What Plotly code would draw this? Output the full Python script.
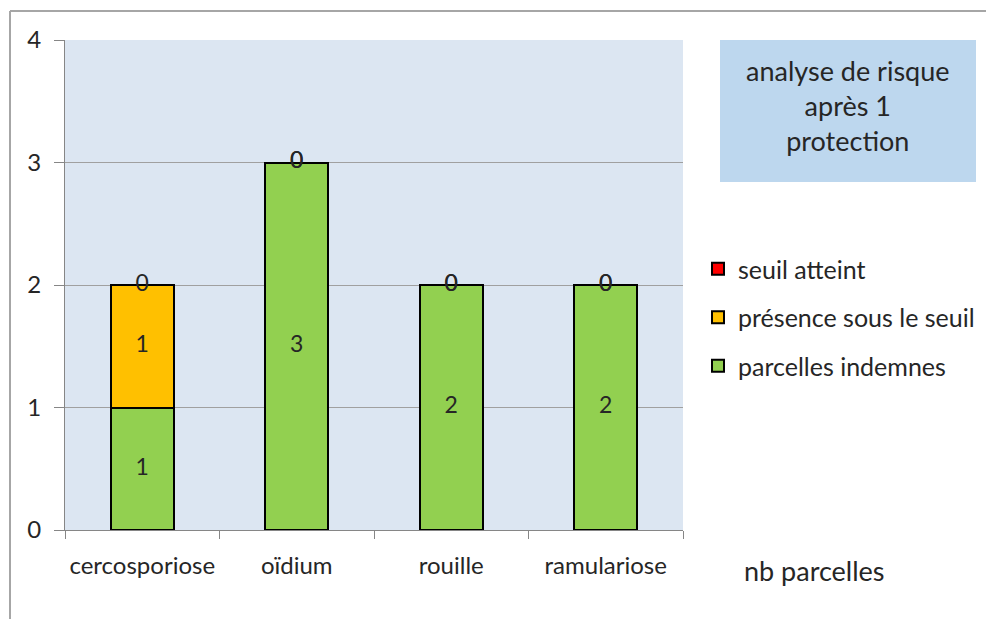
import plotly.graph_objects as go

categories = ["cercosporiose", "oïdium", "rouille", "ramulariose"]
indemnes = [1, 3, 2, 2]
presence = [1, 0, 0, 0]
seuil = [0, 0, 0, 0]
series_names = ["parcelles indemnes", "présence sous le seuil", "seuil atteint"]
series_colors = ["#92d050", "#ffc000", "#ff0000"]
y_ticks = [0, 1, 2, 3, 4]
title_text = "analyse de risque<br>après 1<br>protection"
value_axis_label = "nb parcelles"

W, H = 994, 619
OFF = 8  # page body margin
L, T = 57, 32
PW, PH = 618, 490
R, B = W - L - PW, H - T - PH

def px(x):
    return (x - OFF - L) / PW

def py(y):
    return (T + PH - (y - OFF)) / PH

FONT = "Lato"
TXT = "#262626"

fig = go.Figure()
series = [indemnes, presence, seuil]
base = [0] * len(categories)
for i, (vals, name, col) in enumerate(zip(series, series_names, series_colors)):
    fig.add_trace(go.Bar(
        x=categories, y=vals, name=name, legendgroup=name,
        legendrank=100 - i,
        marker=dict(color=col, line=dict(color="#000000", width=2)),
        width=0.41,
    ))
    fig.add_trace(go.Scatter(
        x=categories, y=[b + v / 2 for b, v in zip(base, vals)],
        text=[str(v) for v in vals], mode="text", showlegend=False,
        textfont=dict(family=FONT, size=23, color=TXT), cliponaxis=False,
        hoverinfo="skip",
    ))
    base = [b + v for b, v in zip(base, vals)]

fig.update_layout(
    width=W, height=H,
    margin=dict(l=L, r=R, t=T, b=B, pad=0),
    barmode="stack",
    plot_bgcolor="#dce6f2",
    paper_bgcolor="#ffffff",
    font=dict(family=FONT, size=24, color=TXT),
    showlegend=True,
    legend=dict(
        x=px(698), y=py(246), xanchor="left", yanchor="top",
        traceorder="grouped", tracegroupgap=13,
        font=dict(family=FONT, size=25, color=TXT),
        bgcolor="rgba(0,0,0,0)",
    ),
    xaxis=dict(
        type="category", tickson="boundaries", ticks="outside", ticklen=8,
        tickcolor="#868686", showline=True, linecolor="#868686", linewidth=1,
        showgrid=False, tickfont=dict(family=FONT, size=24, color=TXT),
        tickangle=0, automargin=False, ticklabelstandoff=14,
    ),
    yaxis=dict(
        range=[0, 4], tickvals=y_ticks, ticks="outside", ticklen=10,
        tickcolor="#868686", showline=True, linecolor="#868686", linewidth=1,
        showgrid=True, gridcolor="#a0a0a0", gridwidth=1, zeroline=False,
        tickfont=dict(family=FONT, size=24, color=TXT), ticklabelstandoff=8,
        automargin=False,
    ),
    shapes=[
        dict(type="line", xref="paper", yref="paper", x0=px(10), x1=px(1002),
             y0=py(11), y1=py(11), line=dict(color="#a6a6a6", width=2)),
        dict(type="line", xref="paper", yref="paper", x0=px(10), x1=px(10),
             y0=py(11), y1=py(640), line=dict(color="#a6a6a6", width=2)),
        dict(type="rect", xref="paper", yref="paper", x0=px(720), x1=px(976),
             y0=py(182), y1=py(40), fillcolor="#bdd7ee", line=dict(width=0),
             layer="below"),
    ],
    annotations=[
        dict(xref="paper", yref="paper", x=px(848), y=py(106), text=title_text,
             showarrow=False, font=dict(family=FONT, size=27, color=TXT),
             align="center", xanchor="center", yanchor="middle"),
        dict(xref="paper", yref="paper", x=px(815), y=py(570),
             text=value_axis_label, showarrow=False,
             font=dict(family=FONT, size=27, color=TXT),
             xanchor="center", yanchor="middle"),
    ],
)

fig.write_html("out.html")
